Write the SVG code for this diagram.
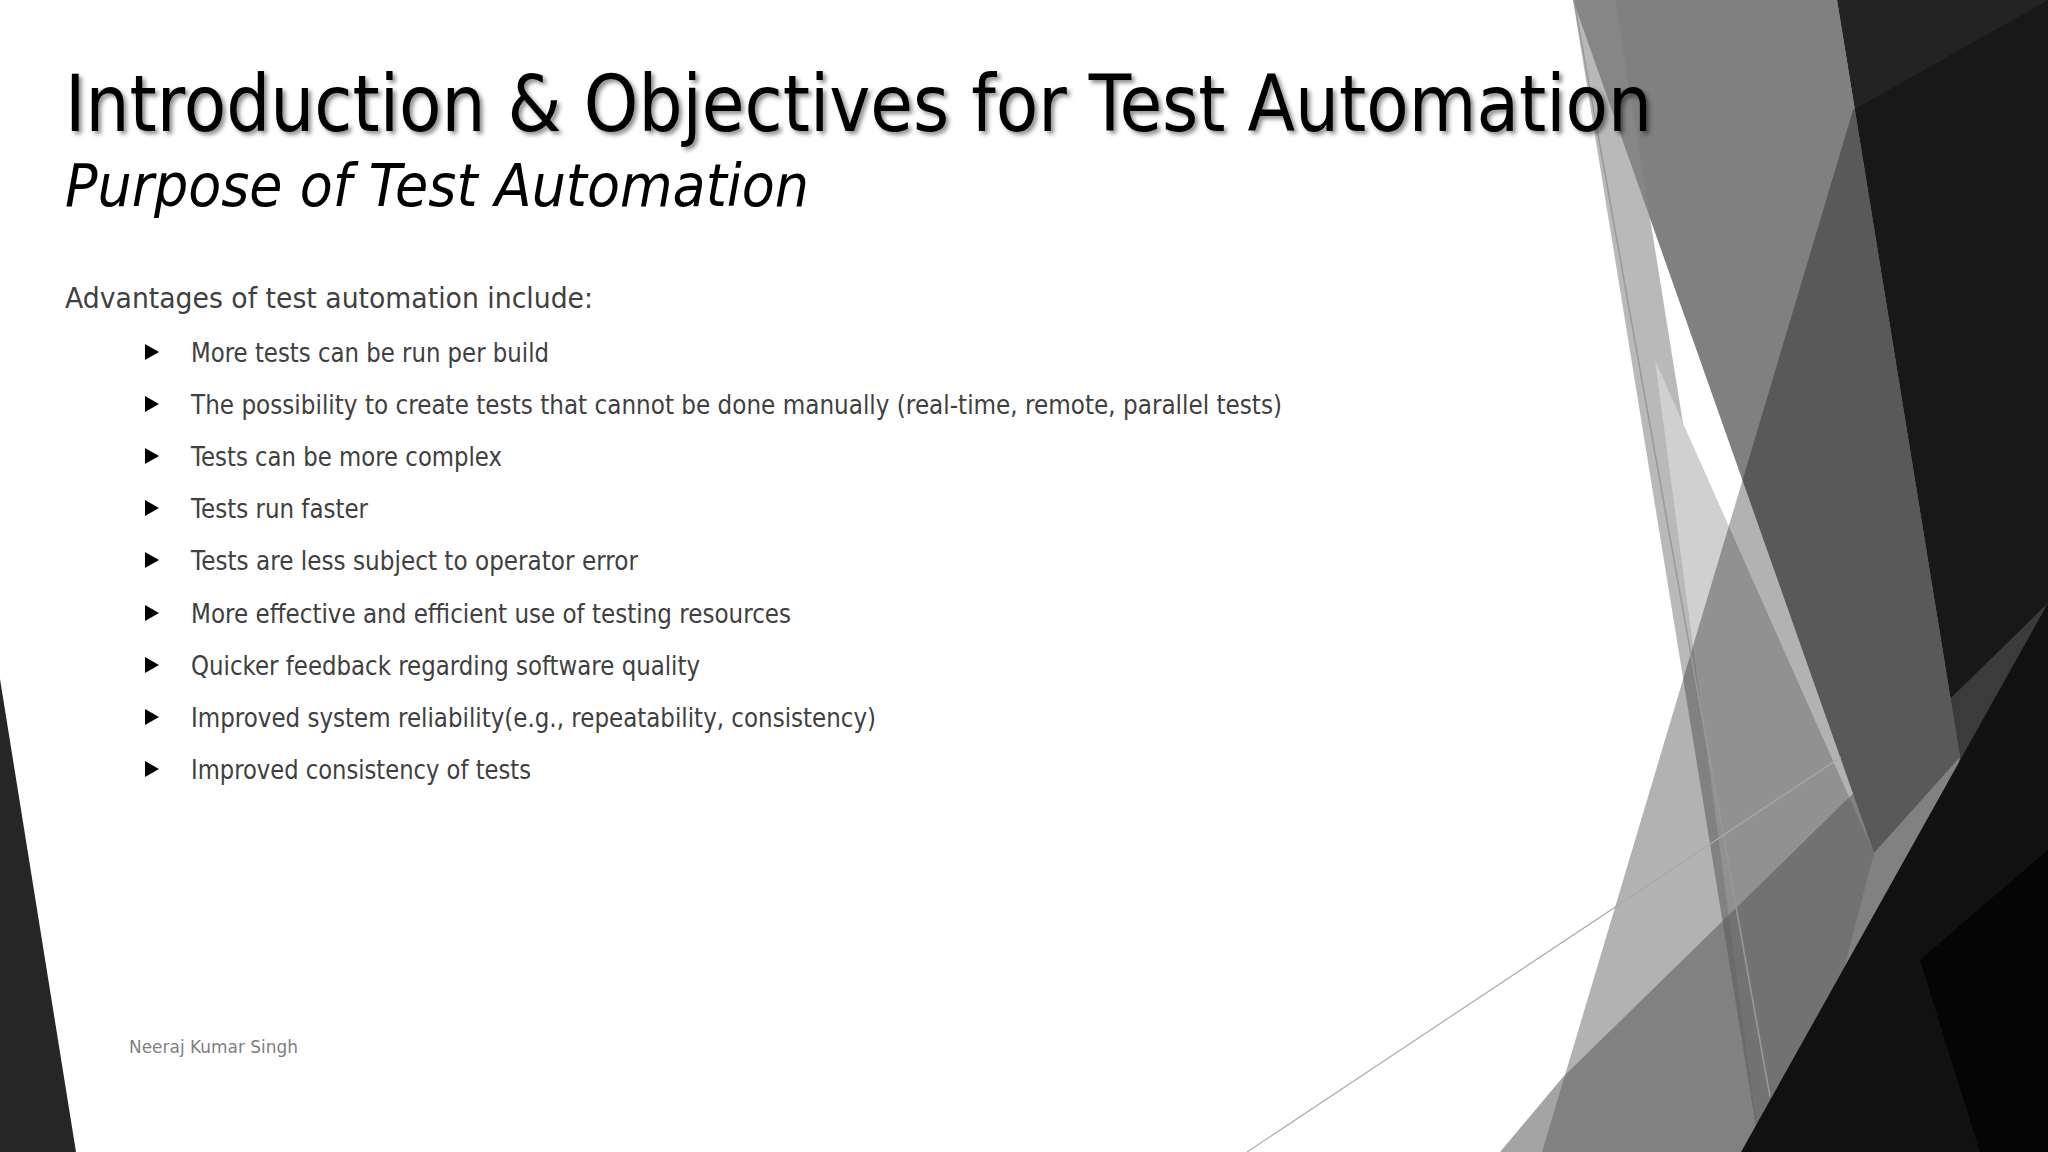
<svg xmlns="http://www.w3.org/2000/svg" width="2048" height="1152" viewBox="0 0 2048 1152">
<defs>
<style>
.t{font-family:"DejaVu Sans","Liberation Sans",sans-serif}
.b{font-size:26px;fill:#404040}
.bul{fill:#000}
</style>
<filter id="sh" x="-5%" y="-20%" width="110%" height="150%"><feDropShadow dx="3" dy="3" stdDeviation="2" flood-color="#000" flood-opacity="0.45"/></filter>
</defs>
<rect width="2048" height="1152" fill="#fff"/>
<g id="background">
<polygon points="1573,0 1837,0 1960,757 1874,853" fill="#808080"/>
<polygon points="1573,0 1615,0 1800,1152 1760,1152" fill="#8a8a8a" opacity="0.6"/>
<polygon points="1655,360 1874,853 1797,1152 1760,1152" fill="#d0d0d0"/>
<polygon points="1837,0 2048,0 2048,1152 1900,1152 1960,757" fill="#232323"/>
<polygon points="1853,110 2048,0 2048,603 1741,1152 1542,1152" fill="#000" opacity="0.3"/>
<polygon points="1500,1152 1563,1077 2048,603 2048,1152" fill="#5a5a5a" opacity="0.55"/>
<polygon points="1741,1152 2048,603 2048,1152" fill="#111"/>
<polygon points="1980,1152 1920,960 2048,850 2048,1152" fill="#050505"/>
<polygon points="0,679 76,1152 0,1152" fill="#262626"/>
<line x1="1574" y1="0" x2="1770" y2="1097" stroke="#999" stroke-width="1.5"/>
<line x1="1247" y1="1152" x2="1841" y2="757" stroke="#aaa" stroke-width="1.2"/>
</g>
<g id="title">
<text class="t" x="65" y="131" font-size="78" fill="#000" filter="url(#sh)" textLength="1587" lengthAdjust="spacingAndGlyphs">Introduction &amp; Objectives for Test Automation</text>
<text class="t" x="65" y="206" font-size="58" font-style="italic" fill="#000" textLength="744" lengthAdjust="spacingAndGlyphs">Purpose of Test Automation</text>
</g>
<g id="body">
<text class="t" x="65" y="308" font-size="29" fill="#404040" textLength="528" lengthAdjust="spacingAndGlyphs">Advantages of test automation include:</text>
<g class="bul">
<polygon points="145,344 159,352 145,360"/>
<polygon points="145,396 159,404 145,412"/>
<polygon points="145,448 159,456 145,464"/>
<polygon points="145,500 159,508 145,516"/>
<polygon points="145,552 159,560 145,568"/>
<polygon points="145,605 159,613 145,621"/>
<polygon points="145,657 159,665 145,673"/>
<polygon points="145,709 159,717 145,725"/>
<polygon points="145,761 159,769 145,777"/>
</g>
<text class="t b" x="191" y="362" textLength="358" lengthAdjust="spacingAndGlyphs">More tests can be run per build</text>
<text class="t b" x="191" y="414" textLength="1091" lengthAdjust="spacingAndGlyphs">The possibility to create tests that cannot be done manually (real-time, remote, parallel tests)</text>
<text class="t b" x="191" y="466" textLength="311" lengthAdjust="spacingAndGlyphs">Tests can be more complex</text>
<text class="t b" x="191" y="518" textLength="177" lengthAdjust="spacingAndGlyphs">Tests run faster</text>
<text class="t b" x="191" y="570" textLength="447" lengthAdjust="spacingAndGlyphs">Tests are less subject to operator error</text>
<text class="t b" x="191" y="623" textLength="600" lengthAdjust="spacingAndGlyphs">More effective and efficient use of testing resources</text>
<text class="t b" x="191" y="675" textLength="509" lengthAdjust="spacingAndGlyphs">Quicker feedback regarding software quality</text>
<text class="t b" x="191" y="727" textLength="685" lengthAdjust="spacingAndGlyphs">Improved system reliability(e.g., repeatability, consistency)</text>
<text class="t b" x="191" y="779" textLength="340" lengthAdjust="spacingAndGlyphs">Improved consistency of tests</text>
</g>
<g id="footer">
<text class="t" x="129" y="1053" font-size="18" fill="#7f7f7f" textLength="169" lengthAdjust="spacingAndGlyphs">Neeraj Kumar Singh</text>
</g>
</svg>
